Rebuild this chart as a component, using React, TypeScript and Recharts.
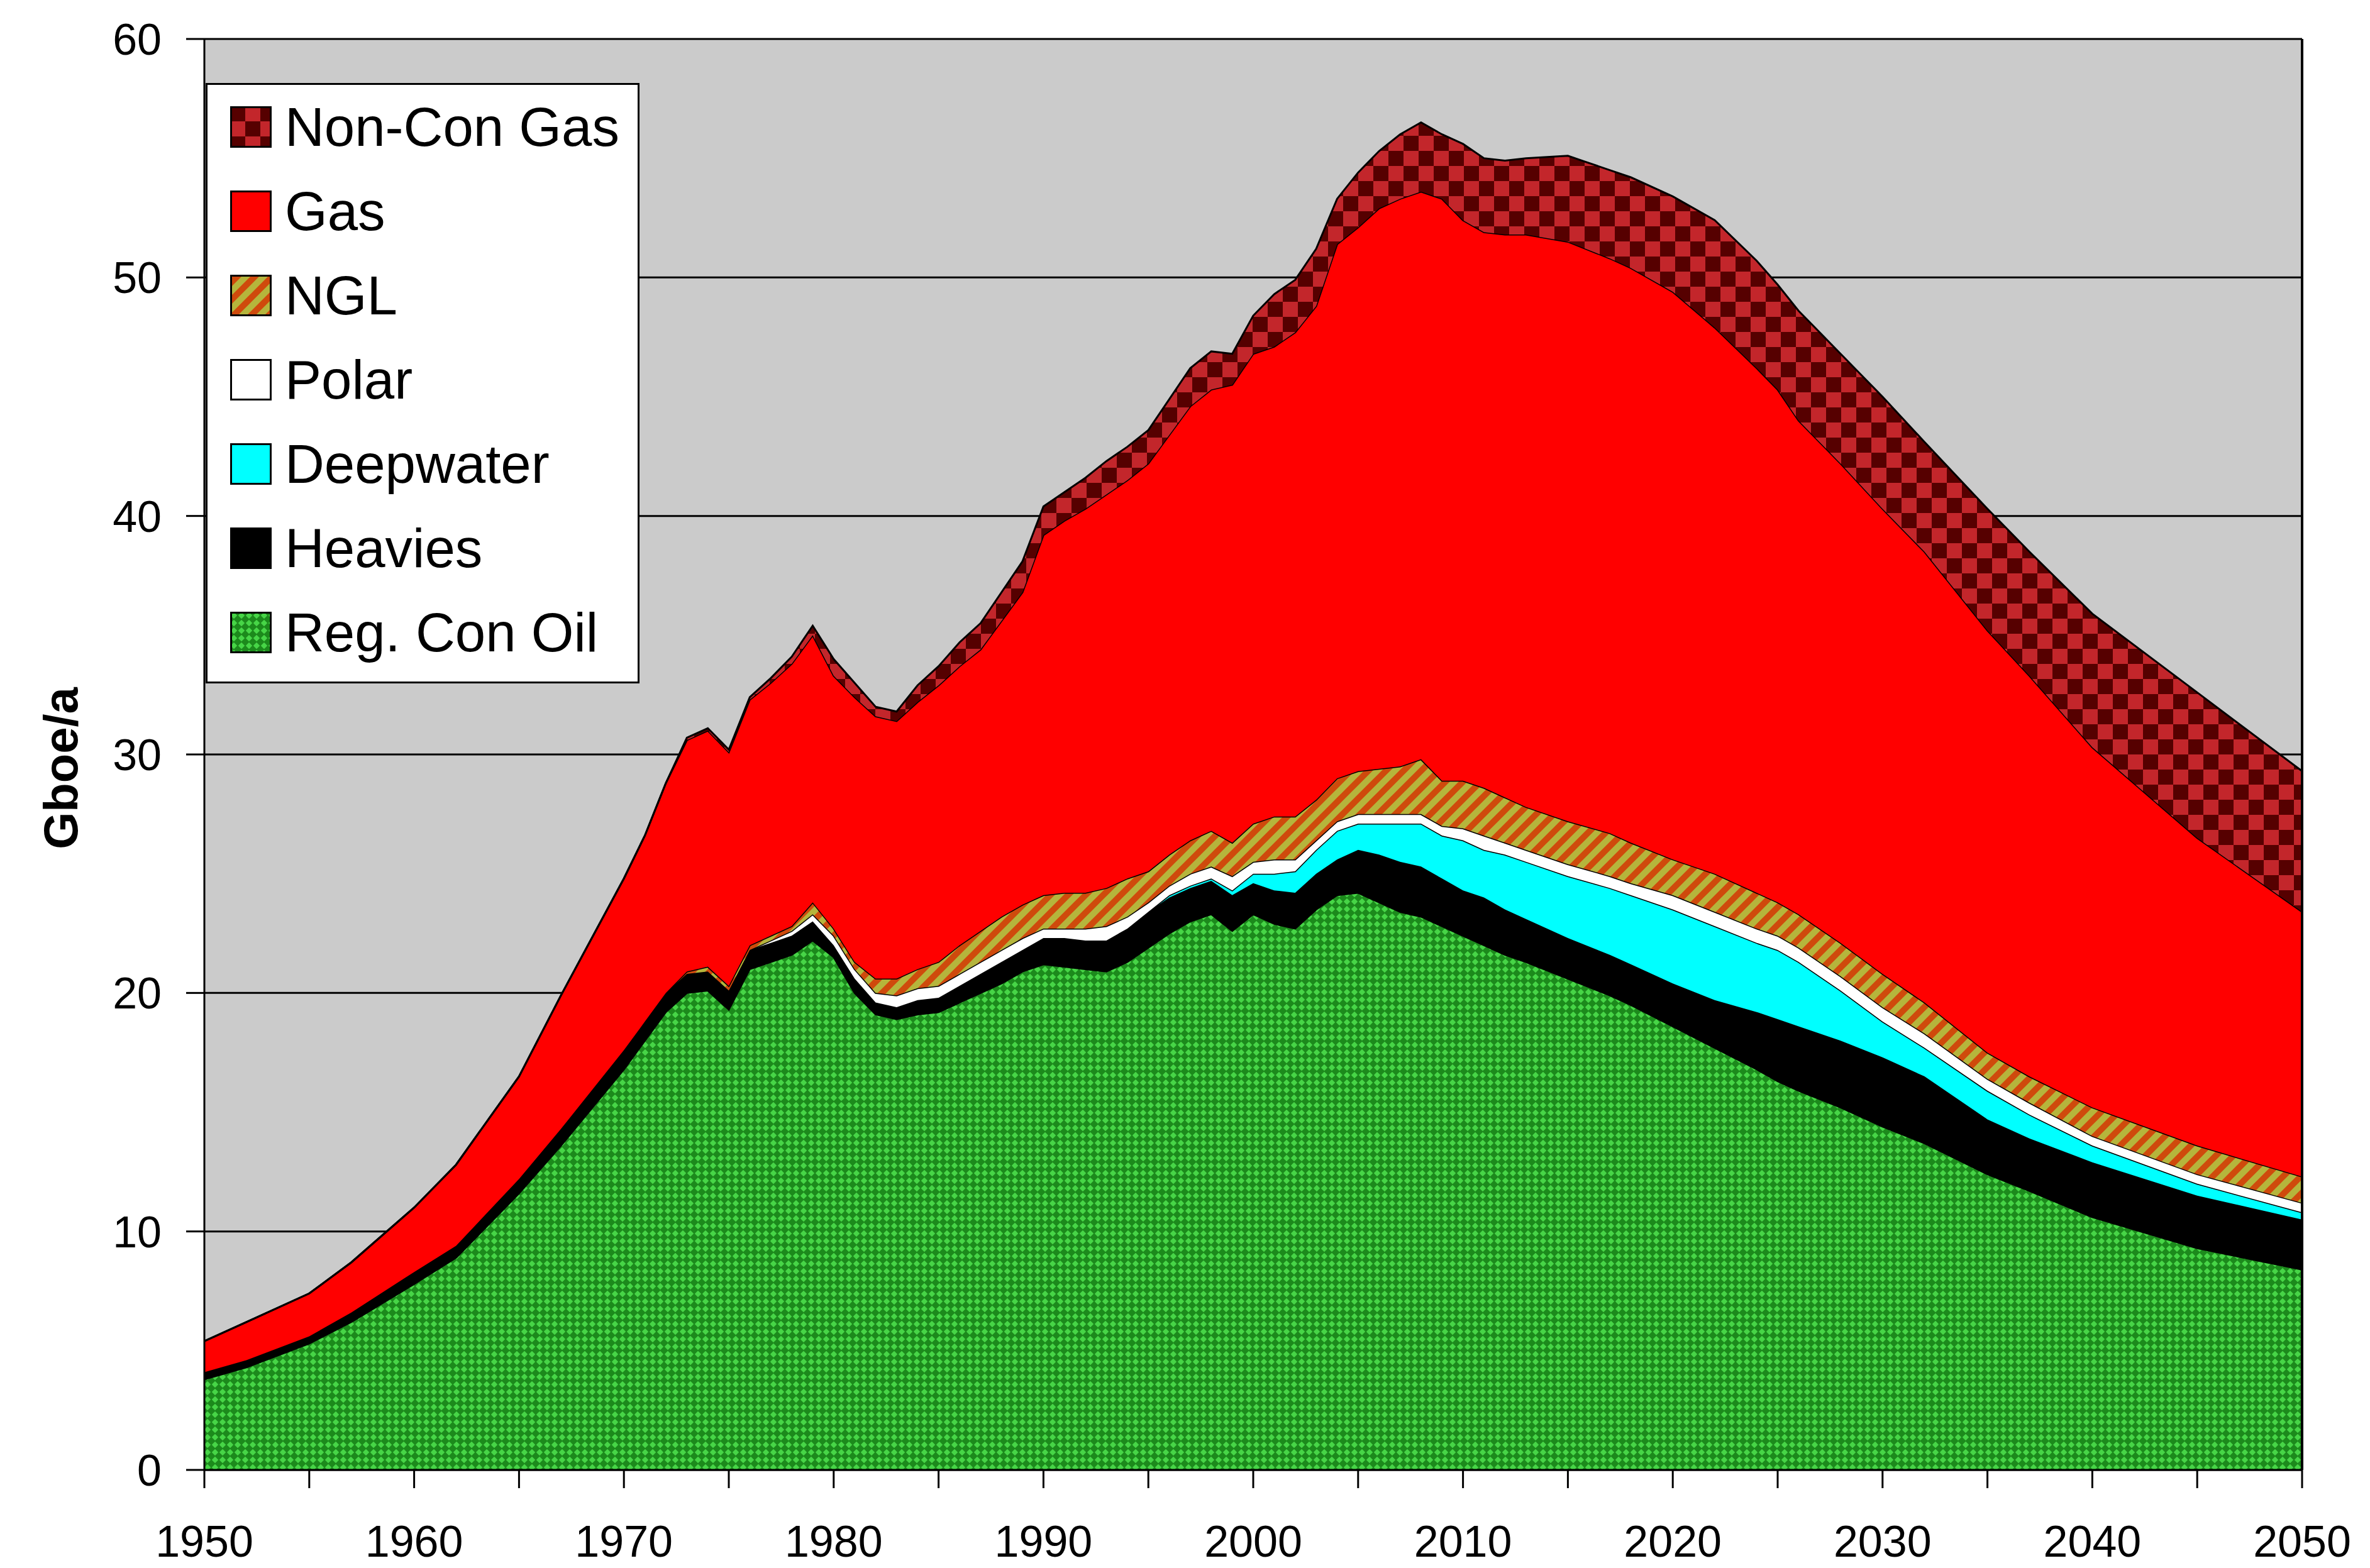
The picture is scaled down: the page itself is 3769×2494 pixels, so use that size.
import React from 'react';
import { AreaChart, Area, XAxis, YAxis, CartesianGrid, ReferenceLine } from 'recharts';

if (typeof document !== 'undefined') {
  document.body.style.margin = '0';
}

const FONT = '"Liberation Sans", Arial, Helvetica, sans-serif';

const years = [1950, 1952, 1955, 1957, 1960, 1962, 1965, 1967, 1970, 1971, 1972, 1973, 1974, 1975, 1976, 1977, 1978, 1979, 1980, 1981, 1982, 1983, 1984, 1985, 1986, 1987, 1988, 1989, 1990, 1991, 1992, 1993, 1994, 1995, 1996, 1997, 1998, 1999, 2000, 2001, 2002, 2003, 2004, 2005, 2006, 2007, 2008, 2009, 2010, 2011, 2012, 2013, 2015, 2017, 2018, 2020, 2022, 2024, 2025, 2026, 2028, 2030, 2032, 2035, 2037, 2040, 2045, 2050];

const regConOil = [3.8, 4.3, 5.3, 6.2, 7.8, 8.9, 11.6, 13.6, 16.8, 18.0, 19.2, 20.0, 20.1, 19.3, 21.0, 21.3, 21.6, 22.2, 21.5, 20.0, 19.1, 18.9, 19.1, 19.2, 19.6, 20.0, 20.4, 20.9, 21.2, 21.1, 21.0, 20.9, 21.3, 21.9, 22.5, 23.0, 23.3, 22.6, 23.3, 22.9, 22.7, 23.5, 24.1, 24.2, 23.8, 23.4, 23.2, 22.8, 22.4, 22.0, 21.6, 21.3, 20.6, 19.9, 19.5, 18.6, 17.7, 16.8, 16.3, 15.9, 15.2, 14.4, 13.7, 12.4, 11.7, 10.6, 9.3, 8.4];

const heavies = [0.3, 0.3, 0.3, 0.4, 0.5, 0.5, 0.6, 0.7, 0.8, 0.8, 0.8, 0.8, 0.8, 0.8, 0.8, 0.8, 0.8, 0.8, 0.5, 0.6, 0.5, 0.5, 0.6, 0.6, 0.7, 0.8, 0.9, 0.9, 1.1, 1.2, 1.2, 1.3, 1.4, 1.5, 1.5, 1.4, 1.4, 1.5, 1.3, 1.4, 1.5, 1.5, 1.5, 1.8, 2.0, 2.1, 2.1, 2.0, 1.9, 2.0, 1.9, 1.8, 1.7, 1.7, 1.7, 1.8, 2.0, 2.4, 2.6, 2.7, 2.8, 2.9, 2.8, 2.3, 2.2, 2.3, 2.2, 2.1];

const deepwater = [0, 0, 0, 0, 0, 0, 0, 0, 0, 0, 0, 0, 0, 0, 0, 0, 0, 0, 0, 0, 0, 0, 0, 0, 0, 0, 0, 0, 0, 0, 0, 0, 0, 0, 0.1, 0.1, 0.1, 0.2, 0.4, 0.7, 0.9, 1.0, 1.2, 1.1, 1.3, 1.6, 1.8, 1.8, 2.1, 2.0, 2.3, 2.4, 2.6, 2.8, 2.9, 3.1, 3.1, 2.9, 2.9, 2.7, 2.1, 1.5, 1.2, 1.2, 1.0, 0.7, 0.5, 0.3];

const polar = [0, 0, 0, 0, 0, 0, 0, 0, 0, 0, 0, 0, 0, 0, 0, 0.1, 0.2, 0.3, 0.4, 0.4, 0.4, 0.5, 0.5, 0.5, 0.5, 0.5, 0.5, 0.5, 0.4, 0.4, 0.5, 0.6, 0.5, 0.4, 0.4, 0.5, 0.5, 0.6, 0.5, 0.6, 0.5, 0.4, 0.4, 0.4, 0.4, 0.4, 0.4, 0.4, 0.5, 0.6, 0.5, 0.5, 0.5, 0.5, 0.5, 0.6, 0.6, 0.6, 0.6, 0.6, 0.6, 0.6, 0.6, 0.5, 0.5, 0.4, 0.4, 0.4];

const ngl = [0, 0, 0, 0, 0, 0, 0, 0, 0, 0, 0, 0.1, 0.2, 0.2, 0.2, 0.2, 0.2, 0.5, 0.3, 0.3, 0.6, 0.7, 0.8, 1.0, 1.2, 1.3, 1.4, 1.4, 1.4, 1.5, 1.5, 1.6, 1.6, 1.3, 1.3, 1.4, 1.5, 1.4, 1.6, 1.8, 1.8, 1.7, 1.8, 1.8, 1.9, 2.0, 2.3, 1.9, 2.0, 2.0, 1.9, 1.8, 1.8, 1.8, 1.7, 1.5, 1.6, 1.5, 1.4, 1.4, 1.4, 1.4, 1.3, 1.1, 1.1, 1.2, 1.2, 1.1];

const gas = [1.3, 1.6, 1.8, 2.1, 2.7, 3.4, 4.3, 5.6, 7.2, 7.8, 8.8, 9.7, 9.9, 9.8, 10.3, 10.6, 11.0, 11.2, 10.6, 11.1, 11.0, 10.8, 11.2, 11.6, 11.7, 11.8, 12.4, 13.1, 15.1, 15.6, 16.1, 16.5, 16.7, 17.1, 17.6, 18.2, 18.5, 19.2, 19.7, 19.7, 20.3, 20.7, 22.4, 22.8, 23.5, 23.8, 23.8, 24.4, 23.5, 23.3, 23.6, 24.0, 24.3, 24.1, 24.1, 23.8, 22.9, 22.0, 21.5, 20.7, 20.1, 19.5, 18.9, 17.7, 16.8, 15.1, 12.9, 11.1];

const nonConGas = [0, 0, 0, 0, 0, 0, 0, 0, 0, 0, 0, 0.1, 0.1, 0.1, 0.1, 0.2, 0.3, 0.4, 0.7, 0.6, 0.4, 0.4, 0.7, 0.8, 1.0, 1.1, 1.2, 1.3, 1.2, 1.2, 1.3, 1.4, 1.4, 1.4, 1.5, 1.6, 1.6, 1.3, 1.6, 2.2, 2.2, 2.4, 1.9, 2.3, 2.4, 2.7, 2.9, 2.7, 3.2, 3.1, 3.1, 3.2, 3.6, 3.7, 3.8, 4.0, 4.5, 4.5, 4.4, 4.6, 4.6, 4.7, 4.6, 5.1, 5.2, 5.6, 6.1, 5.9];

const yTicks = [0, 10, 20, 30, 40, 50, 60];
const xTicks = [1950, 1955, 1960, 1965, 1970, 1975, 1980, 1985, 1990, 1995, 2000, 2005, 2010, 2015, 2020, 2025, 2030, 2035, 2040, 2045, 2050];

const data = years.map((year, i) => ({
  year,
  regConOil: regConOil[i],
  heavies: heavies[i],
  deepwater: deepwater[i],
  polar: polar[i],
  ngl: ngl[i],
  gas: gas[i],
  nonConGas: nonConGas[i],
}));

const stackOrder = [
  { key: 'regConOil', name: 'Reg. Con Oil', fill: 'url(#pGreen)' },
  { key: 'heavies', name: 'Heavies', fill: '#000000' },
  { key: 'deepwater', name: 'Deepwater', fill: '#00ffff' },
  { key: 'polar', name: 'Polar', fill: '#ffffff' },
  { key: 'ngl', name: 'NGL', fill: 'url(#pNgl)' },
  { key: 'gas', name: 'Gas', fill: '#ff0000' },
  { key: 'nonConGas', name: 'Non-Con Gas', fill: 'url(#pNonCon)' },
];

const legendOrder = [...stackOrder].reverse();

const W = 3769;
const H = 2494;

export default function App() {
  return (
    <div style={{ position: 'relative', width: W, height: H, fontFamily: FONT, overflow: 'hidden' }}>
      <AreaChart width={W} height={H} data={data} margin={{ top: 62, right: 108, bottom: 0, left: 0 }}>
        <defs>
          <pattern id="pGreen" patternUnits="userSpaceOnUse" width="12" height="12">
            <rect width="12" height="12" fill="#1c8a1c" />
            <polygon points="6,0.8 11.2,6 6,11.2 0.8,6" fill="#47d547" />
          </pattern>
          <pattern id="pNonCon" patternUnits="userSpaceOnUse" width="48" height="48">
            <rect width="48" height="48" fill="#c3262b" />
            <rect width="24" height="24" fill="#560000" />
            <rect x="24" y="24" width="24" height="24" fill="#560000" />
          </pattern>
          <pattern id="pNgl" patternUnits="userSpaceOnUse" width="28" height="28">
            <rect width="28" height="28" fill="#cf4a0c" />
            <path d="M-7,7 L7,-7 M0,28 L28,0 M21,35 L35,21" stroke="#b5b53c" strokeWidth="10" />
          </pattern>
        </defs>
        <CartesianGrid vertical={false} stroke="#000" strokeWidth={3} fill="#cbcbcb" fillOpacity={1} />
        <XAxis
          dataKey="year"
          type="number"
          domain={[1950, 2050]}
          ticks={xTicks}
          interval={0}
          tickFormatter={(v: number) => (v % 10 === 0 ? String(v) : '')}
          height={156}
          tickSize={29}
          tickMargin={59}
          axisLine={{ stroke: '#000', strokeWidth: 3 }}
          tickLine={{ stroke: '#000', strokeWidth: 3 }}
          tick={{ fontSize: 70, fill: '#000', fontFamily: FONT }}
        />
        <YAxis
          type="number"
          domain={[0, 60]}
          ticks={yTicks}
          interval={0}
          width={325}
          tickSize={29}
          tickMargin={39}
          axisLine={{ stroke: '#000', strokeWidth: 3 }}
          tickLine={{ stroke: '#000', strokeWidth: 3 }}
          tick={{ fontSize: 70, fill: '#000', fontFamily: FONT }}
          label={{
            content: (props: any) => {
              const vb = props.viewBox || { x: 0, y: 62, width: 325, height: 2276 };
              const cx = vb.x + 96;
              const cy = vb.y + vb.height / 2 + 22;
              return (
                <text
                  x={cx}
                  y={cy}
                  transform={`rotate(-90, ${cx}, ${cy})`}
                  textAnchor="middle"
                  dominantBaseline="central"
                  fontSize={76}
                  fontWeight="bold"
                  fontFamily={FONT}
                  fill="#000"
                >
                  Gboe/a
                </text>
              );
            },
          }}
        />
        {stackOrder.map((s) => (
          <Area
            key={s.key}
            type="linear"
            dataKey={s.key}
            name={s.name}
            stackId="1"
            fill={s.fill}
            fillOpacity={1}
            stroke="#000"
            strokeWidth={3}
            dot={false}
            activeDot={false}
            isAnimationActive={false}
          />
        ))}
        <ReferenceLine x={2050} stroke="#000" strokeWidth={4} />
      </AreaChart>
      <div
        style={{
          position: 'absolute',
          left: 327,
          top: 132,
          width: 690,
          height: 955,
          boxSizing: 'border-box',
          border: '3px solid #000',
          background: '#fff',
        }}
      >
        {legendOrder.map((s, i) => (
          <div
            key={s.key}
            style={{
              position: 'absolute',
              left: 36,
              top: 67 + 134 * i - 45,
              height: 90,
              display: 'flex',
              alignItems: 'center',
              whiteSpace: 'nowrap',
            }}
          >
            <svg width={66} height={66} style={{ display: 'block' }}>
              <rect x={1.5} y={1.5} width={63} height={63} fill={s.fill} stroke="#000" strokeWidth={3} />
            </svg>
            <span style={{ marginLeft: 21, fontSize: 87, lineHeight: '90px', color: '#000', fontFamily: FONT }}>{s.name}</span>
          </div>
        ))}
      </div>
    </div>
  );
}
